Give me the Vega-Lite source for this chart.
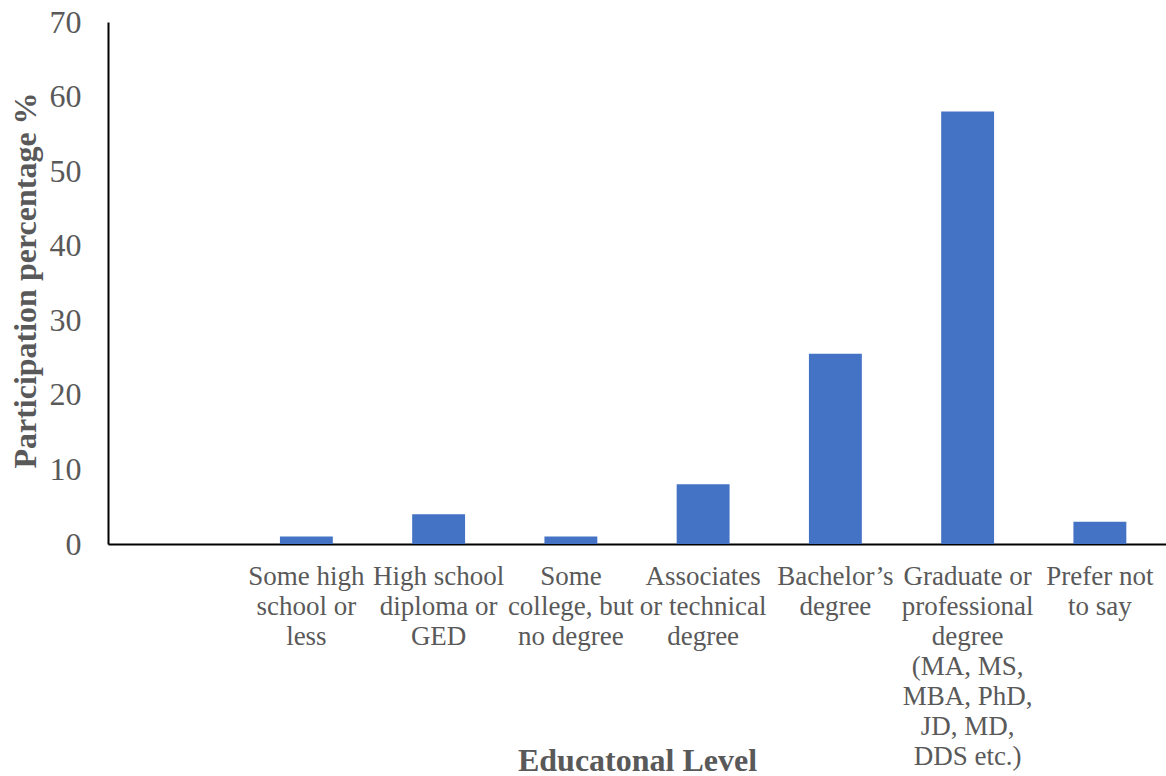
{
  "$schema": "https://vega.github.io/schema/vega-lite/v6.json",
  "width": 1058,
  "height": 522,
  "autosize": {"type": "none"},
  "padding": {"left": 108, "top": 22, "right": 0, "bottom": 232},
  "background": "white",
  "config": {"view": {"stroke": null}, "font": "Liberation Serif"},
  "data": {
    "values": [
      {"level": "Some high|school or|less", "pct": 1},
      {"level": "High school|diploma or|GED", "pct": 4},
      {"level": "Some|college, but|no degree", "pct": 1},
      {"level": "Associates|or technical|degree", "pct": 8},
      {"level": "Bachelor’s|degree", "pct": 25.5},
      {"level": "Graduate or|professional|degree|(MA, MS,|MBA, PhD,|JD, MD,|DDS etc.)", "pct": 58},
      {"level": "Prefer not|to say", "pct": 3}
    ]
  },
  "mark": {"type": "bar", "color": "#4472C4"},
  "encoding": {
    "x": {
      "field": "level",
      "type": "nominal",
      "sort": null,
      "scale": {
        "domain": ["_blank", "Some high|school or|less", "High school|diploma or|GED", "Some|college, but|no degree", "Associates|or technical|degree", "Bachelor’s|degree", "Graduate or|professional|degree|(MA, MS,|MBA, PhD,|JD, MD,|DDS etc.)", "Prefer not|to say"],
        "paddingInner": 0.6,
        "paddingOuter": 0.3
      },
      "axis": {
        "title": "Educatonal Level",
        "titleFontSize": 32,
        "titleFontWeight": "bold",
        "titleColor": "#595959",
        "titleBaseline": "alphabetic",
        "titleY": 226,
        "labelExpr": "datum.value == '_blank' ? '' : split(datum.value, '|')",
        "labelAngle": 0,
        "labelFontSize": 27,
        "labelLineHeight": 30,
        "labelColor": "#595959",
        "labelPadding": 32,
        "labelBaseline": "middle",
        "labelLimit": 0,
        "ticks": false,
        "domainColor": "#000000",
        "domainWidth": 2,
        "grid": false
      }
    },
    "y": {
      "field": "pct",
      "type": "quantitative",
      "scale": {"domain": [0, 70]},
      "axis": {
        "title": "Participation percentage %",
        "titleFontSize": 32,
        "titleFontWeight": "bold",
        "titleColor": "#595959",
        "titleBaseline": "middle",
        "titleX": -83,
        "titleY": 258,
        "values": [0, 10, 20, 30, 40, 50, 60, 70],
        "labelFontSize": 32,
        "labelColor": "#595959",
        "labelPadding": 27,
        "ticks": false,
        "domainColor": "#000000",
        "domainWidth": 2,
        "grid": false
      }
    }
  }
}
